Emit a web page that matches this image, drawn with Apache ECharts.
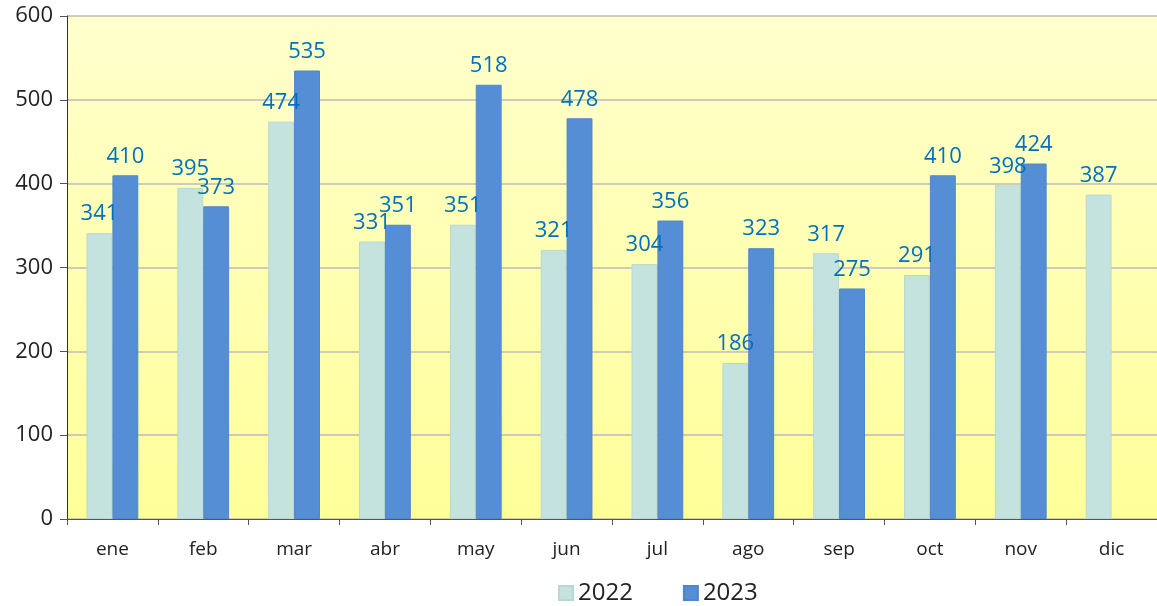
<!DOCTYPE html>
<html><head><meta charset="utf-8">
<script src="https://cdn.jsdelivr.net/npm/echarts@6/dist/echarts.min.js"></script>
<style>html,body{margin:0;padding:0;background:#fff}#c{width:1157px;height:606px}</style>
</head><body><div id="c"></div>
<script>
const categories = ['ene','feb','mar','abr','may','jun','jul','ago','sep','oct','nov','dic'];
const values2022 = [341,395,474,331,351,321,304,186,317,291,398,387];
const values2023 = [410,373,535,351,518,478,356,323,275,410,424,null];
const yTicks = [0,100,200,300,400,500,600];
const font = 'Open Sans';
const chart = echarts.init(document.getElementById('c'));
const lbl = {show:true, position:'top', distance:8, color:'#0070C0', fontSize:22, fontWeight:500, fontFamily:font};
chart.setOption({
  animation:false,
  grid:{left:67,right:0,top:16,bottom:87,
    show:true, borderWidth:0,
    backgroundColor:{type:'linear',x:0,y:0,x2:0,y2:1,colorStops:[{offset:0,color:'#FFFFCC'},{offset:1,color:'#FFFF99'}]}},
  legend:{top:576,left:553,itemWidth:14,itemHeight:14,itemGap:50,icon:'rect',
    textStyle:{fontSize:24,fontFamily:font,color:'#222'},
    data:['2022','2023']},
  xAxis:{type:'category',data:categories,
    axisLine:{lineStyle:{color:'#555',width:1}},
    axisTick:{show:true,length:6,lineStyle:{color:'#555'}},
    axisLabel:{fontSize:19,fontFamily:font,color:'#222',margin:21}},
  yAxis:{type:'value',min:yTicks[0],max:yTicks[yTicks.length-1],interval:100,
    axisLine:{show:true,lineStyle:{color:'#333',width:1}},
    axisTick:{show:true,length:7,lineStyle:{color:'#555'}},
    splitLine:{lineStyle:{color:'#BBBBBB',width:1.5}},
    axisLabel:{fontSize:22,fontFamily:font,color:'#222',margin:14}},
  series:[
    {name:'2022',type:'bar',data:values2022,barGap:'0%',barCategoryGap:'43%',
      itemStyle:{color:'#C4E3DE',borderColor:'#B8D8D3',borderWidth:1},label:lbl},
    {name:'2023',type:'bar',data:values2023,
      itemStyle:{color:'#558ED5',borderColor:'#4F86CB',borderWidth:1},label:lbl}
  ]
});
</script></body></html>
